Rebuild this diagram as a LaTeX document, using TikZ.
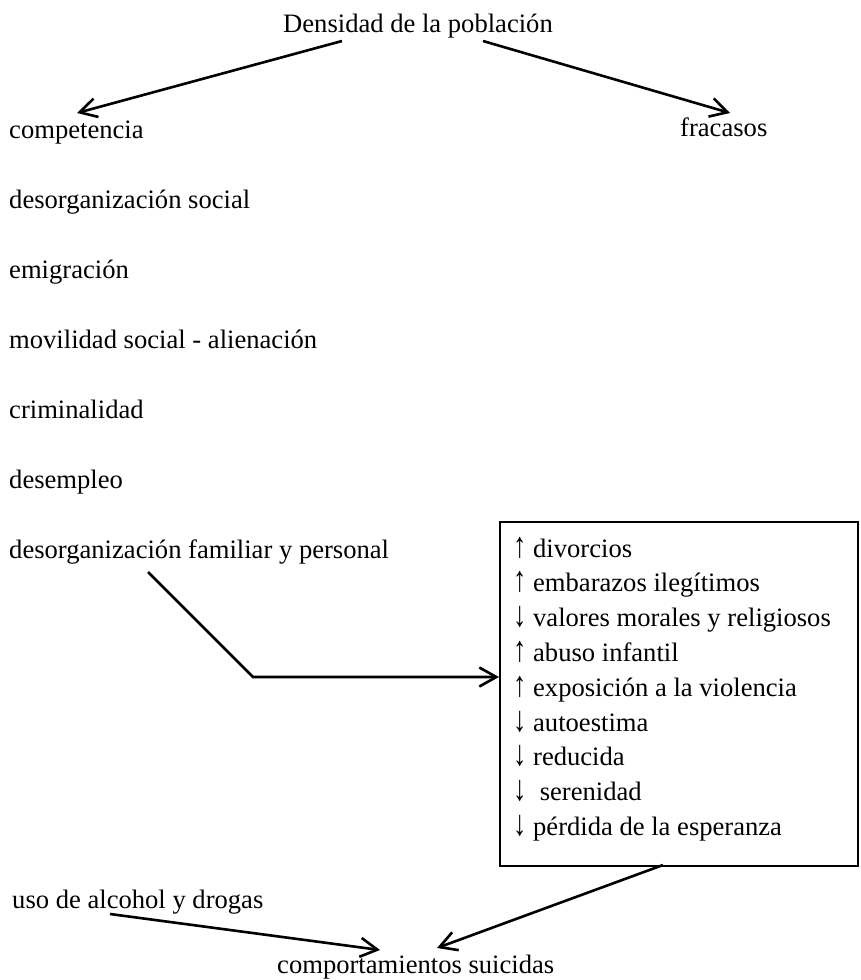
\documentclass[tikz,border=0pt]{standalone}
\usepackage{fontspec}
\usepackage{graphicx}
\setmainfont{Liberation Serif}
\usetikzlibrary{arrows.meta}
\newcommand\myup{\scalebox{1}[1.35]{↑}}
\newcommand\mydown{\scalebox{1}[1.35]{↓}}
\tikzset{
  x=1pt, y=-1pt,
  lbl/.style={anchor=base west, inner sep=0pt, font=\fontsize{26.6}{32}\selectfont},
  conn/.style={line width=2.6pt, -{Straight Barb[length=17pt,width=19pt]}},
  framebox/.style={draw, line width=2.4pt, inner sep=0pt}
}
\begin{document}
\begin{tikzpicture}
\useasboundingbox (0,0) rectangle (860,980);
% texts
\node[lbl, anchor=base] (title) at (418,32) {Densidad de la población};
\node[lbl] (comp) at (9,138) {competencia};
\node[lbl] (frac) at (680,136) {fracasos};
\node[lbl] (dsoc) at (9,208) {desorganización social};
\node[lbl] (emig) at (9,278) {emigración};
\node[lbl] (movi) at (9,348) {movilidad social - alienación};
\node[lbl] (crim) at (9,418) {criminalidad};
\node[lbl] (dese) at (9,488) {desempleo};
\node[lbl] (dfam) at (9,558) {desorganización familiar y personal};
\node[lbl] (alco) at (12,908) {uso de alcohol y drogas};
\node[lbl] (suic) at (277,973) {comportamientos suicidas};
% box
\coordinate (bnw) at (499,521);
\node[framebox, minimum width=358pt, minimum height=344pt, anchor=north west] (box) at (bnw) {};
\foreach \t [count=\i from 0] in {%
  {\myup\ divorcios},
  {\myup\ embarazos ilegítimos},
  {\mydown\ valores morales y religiosos},
  {\myup\ abuso infantil},
  {\myup\ exposición a la violencia},
  {\mydown\ autoestima},
  {\mydown\ reducida},
  {\mydown\ \ serenidad},
  {\mydown\ pérdida de la esperanza}}
  \node[lbl] (item\i) at (513,557+34.8*\i) {\t};
% connector endpoints
\coordinate (tl) at (342,41);
\coordinate (tr) at (483,41);
\coordinate (hcomp) at (77,113);
\coordinate (hfrac) at (730,113);
\coordinate (fstart) at (148,572);
\coordinate (fbend) at (253,677);
\coordinate (bout) at (663,865);
\coordinate (astart) at (110,914);
\coordinate (hs1) at (380,950);
\coordinate (hs2) at (437,948);
% connectors
\draw[conn] (tl) -- (hcomp);
\draw[conn] (tr) -- (hfrac);
\draw[conn] (fstart) -- (fbend) -- (fbend -| box.west);
\draw[conn] (bout) -- (hs2);
\draw[conn] (astart) -- (hs1);
\end{tikzpicture}
\end{document}
